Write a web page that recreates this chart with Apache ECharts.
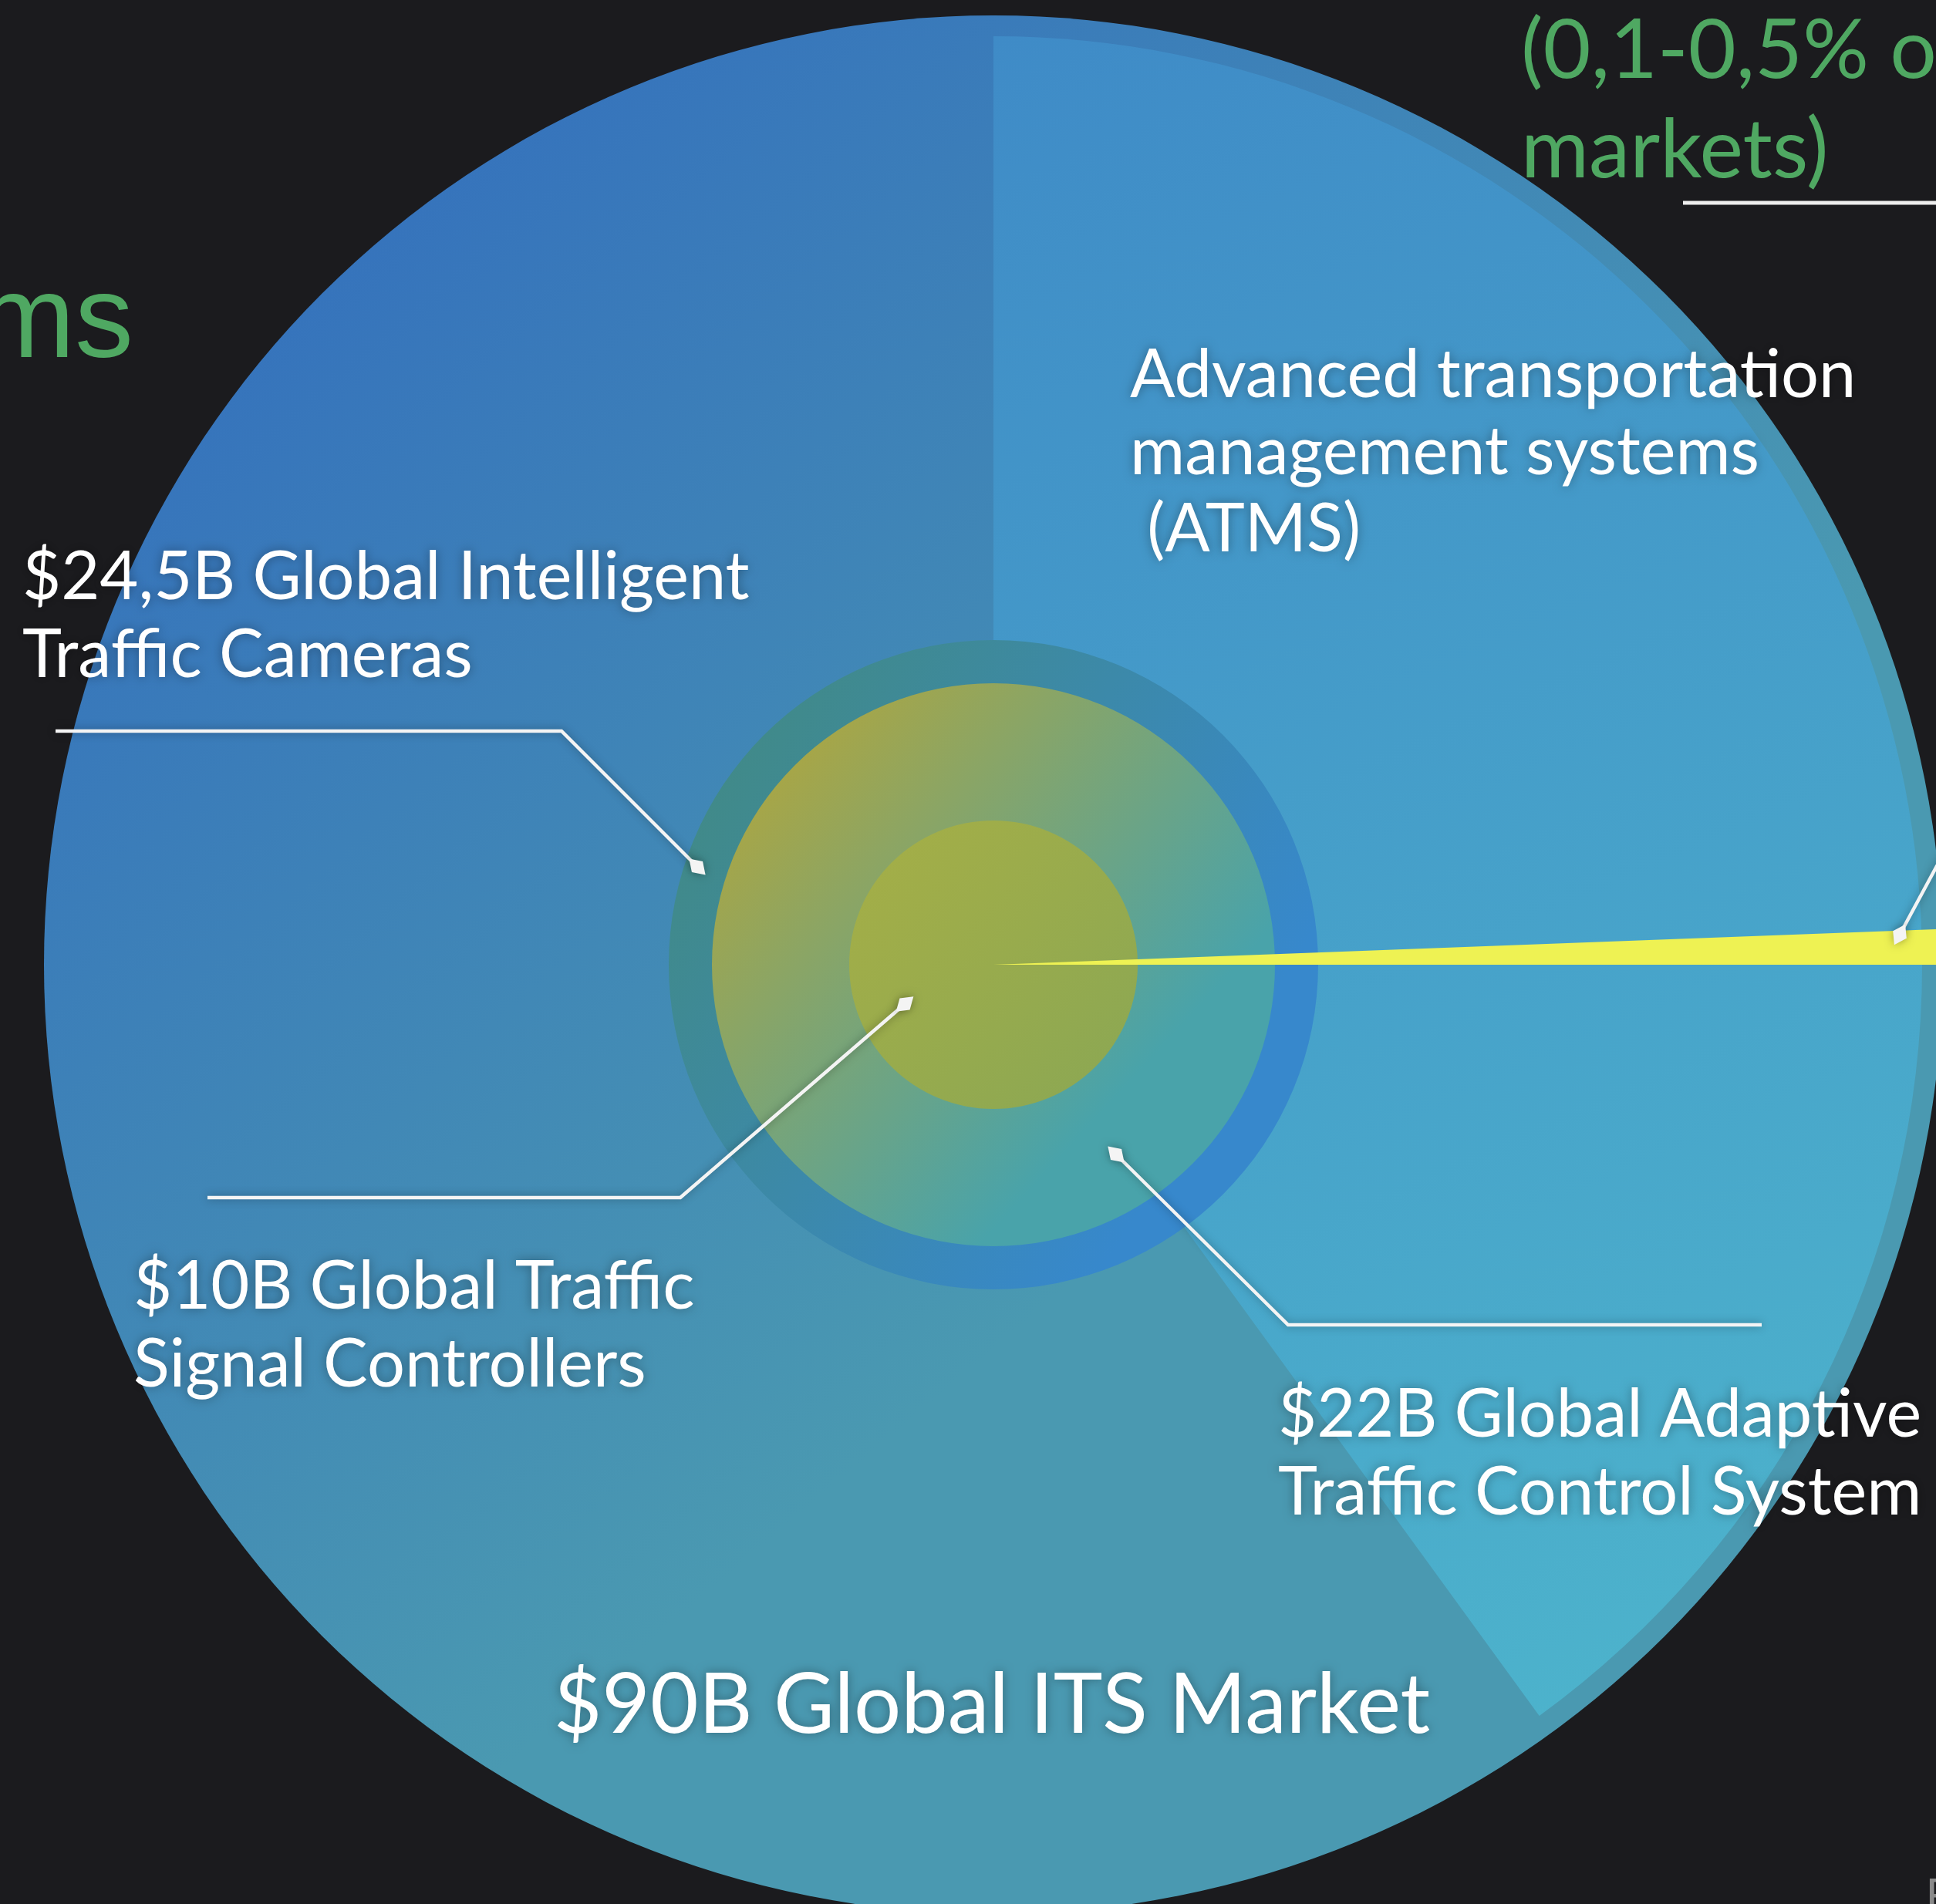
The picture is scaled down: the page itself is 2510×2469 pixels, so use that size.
<!DOCTYPE html>
<html>
<head>
<meta charset="utf-8">
<title>Global ITS Market</title>
<script src="https://cdn.jsdelivr.net/npm/echarts@6/dist/echarts.min.js"></script>
<style>
  html, body { margin: 0; padding: 0; background: #1b1b1e; }
  #chart { width: 2510px; height: 2469px; }
</style>
</head>
<body>
<div id="chart"></div>
<script>
// market sizes, $B
const segmentNames = ['Global ITS Market', 'Global Intelligent Traffic Cameras', 'Global Adaptive Traffic Control System', 'Global Traffic Signal Controllers'];
const segmentValues = [90, 24.5, 22, 10];
// wedges, % of the whole ITS circle
const atmsShare = [40, 60];
const nicheShare = [0.6, 99.4];

const labelTexts = [
  '$90B Global ITS Market',
  '$24,5B Global Intelligent\nTraffic Cameras',
  '$22B Global Adaptive\nTraffic Control System',
  '$10B Global Traffic\nSignal Controllers'
];
const atmsLabel = 'Advanced transportation\nmanagement systems\n (ATMS)';
const nicheLabel = '(0,1-0,5% of\nmarkets)';
const sideLabel = 'ms';

const CENTER = [1288, 1251];
const FONT = 'Lato, "Noto Sans", sans-serif';
const GREEN = '#4fa862';
const CLEAR = 'rgba(0,0,0,0)';

function lin(x, y, x2, y2, c1, c2) {
  return { type: 'linear', x: x, y: y, x2: x2, y2: y2, colorStops: [{ offset: 0, color: c1 }, { offset: 1, color: c2 }] };
}

function disc(radius, data, opts) {
  return Object.assign({
    type: 'pie',
    center: CENTER,
    radius: [0, radius],
    silent: true,
    animation: false,
    startAngle: 90,
    clockwise: true,
    label: { show: false },
    labelLine: { show: false },
    emphasis: { disabled: true },
    itemStyle: { borderWidth: 0 },
    data: data
  }, opts || {});
}

const series = [
  disc(1231, [{ name: segmentNames[0], value: segmentValues[0],
    itemStyle: { color: lin(0.15, 0.05, 0.62, 0.6, '#3470bd', '#4a99b1') } }]),
  disc(1204, [
    { name: 'ATMS', value: atmsShare[0], itemStyle: { color: lin(0, 0, 0.8, 1, '#3f8bc7', '#4db4cc') } },
    { name: 'rest', value: atmsShare[1], itemStyle: { color: CLEAR } }
  ]),
  disc(421, [{ name: segmentNames[1], value: segmentValues[1],
    itemStyle: { color: lin(0.1, 0.1, 0.9, 0.6, '#418a86', '#3788cc') } }]),
  disc(365, [{ name: segmentNames[2], value: segmentValues[2],
    itemStyle: { color: lin(0.12, 0.12, 0.75, 0.7, '#aaa644', '#49a3aa') } }]),
  disc(187, [{ name: segmentNames[3], value: segmentValues[3],
    itemStyle: { color: lin(0, 0, 1, 1, '#a6af46', '#8aa754') } }]),
  disc(1231, [
    { name: 'niche', value: nicheShare[0], itemStyle: { color: '#eef253' } },
    { name: 'rest', value: nicheShare[1], itemStyle: { color: CLEAR } }
  ], { startAngle: 0, clockwise: false })
];

// leader lines: polyline points, last point carries the diamond
const leaders = [
  [[72, 948], [728, 948], [904, 1124]],
  [[269, 1553], [882, 1553], [1173, 1302]],
  [[2284, 1718], [1670, 1718], [1447, 1497]],
  [[2545, 1060], [2463, 1212]]
];

function diamond(pts) {
  const p = pts[pts.length - 1], q = pts[pts.length - 2];
  let dx = p[0] - q[0], dy = p[1] - q[1];
  const len = Math.sqrt(dx * dx + dy * dy);
  dx /= len; dy /= len;
  const h = 15, w = 10;
  return [
    [p[0] + dx * h, p[1] + dy * h],
    [p[0] - dy * w, p[1] + dx * w],
    [p[0] - dx * h, p[1] - dy * h],
    [p[0] + dy * w, p[1] - dx * w]
  ];
}

const shadow = { shadowBlur: 12, shadowColor: 'rgba(0,0,0,0.35)' };
const graphics = [];
leaders.forEach(function (pts) {
  graphics.push({ type: 'polyline', silent: true, z: 10, shape: { points: pts },
    style: Object.assign({ stroke: '#f4f4f4', lineWidth: 4.5, fill: null }, shadow) });
  graphics.push({ type: 'polygon', silent: true, z: 11, shape: { points: diamond(pts) },
    style: Object.assign({ fill: '#f4f4f4' }, shadow) });
});
graphics.push({ type: 'line', silent: true, z: 10, shape: { x1: 2182, y1: 263, x2: 2510, y2: 263 },
  style: { stroke: '#eeeeee', lineWidth: 5 } });

function txt(text, x, y, size, lh, color, align, family, glow) {
  const st = {
    text: text, x: x, y: y, fill: color,
    font: size + 'px ' + (family || FONT),
    fontSize: size, fontFamily: family || FONT,
    lineHeight: lh,
    align: align || 'left', textAlign: align || 'left',
    verticalAlign: 'top', textVerticalAlign: 'top'
  };
  if (glow) {
    st.textShadowBlur = 14;
    st.textShadowColor = 'rgba(0,0,0,0.35)';
  }
  return { type: 'text', silent: true, z: 12, style: st };
}

graphics.push(txt(atmsLabel, 1465, 437, 86.5, 100, '#ffffff', 'left', null, true));
graphics.push(txt(labelTexts[1], 29, 699, 86.5, 101, '#ffffff', 'left', null, true));
graphics.push(txt(labelTexts[3], 173, 1619, 86.5, 101, '#ffffff', 'left', null, true));
graphics.push(txt(labelTexts[2], 1657, 1785, 86.5, 101, '#ffffff', 'left', null, true));
graphics.push(txt(labelTexts[0], 1286, 2147, 108, 130, '#ffffff', 'center', null, true));
graphics.push(txt(nicheLabel, 1972, 2, 107, 129, GREEN, 'left'));
graphics.push(txt(sideLabel, 173, 346, 152, 150, GREEN, 'right', '"Liberation Sans", Arial, sans-serif'));
graphics.push(txt('F', 2497, 2430, 60, 60, '#8a8a8a', 'left', '"Liberation Sans", Arial, sans-serif'));

const chart = echarts.init(document.getElementById('chart'), null, { renderer: 'canvas' });
chart.setOption({
  backgroundColor: '#1b1b1e',
  animation: false,
  series: series,
  graphic: { elements: graphics }
});
</script>
</body>
</html>
